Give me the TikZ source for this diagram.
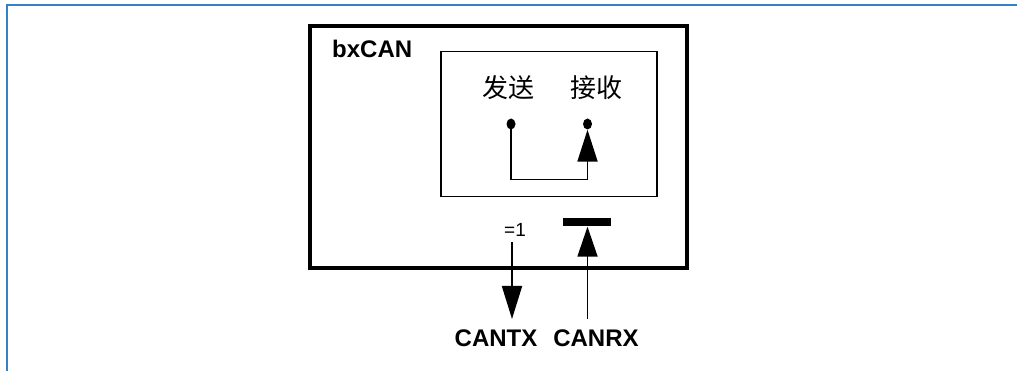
\documentclass[tikz,border=0pt]{standalone}
\usepackage{fontspec}
\setmainfont{Liberation Sans}
\newfontfamily\cjk{Noto Sans CJK SC}
\usetikzlibrary{arrows.meta,shapes.geometric}
\definecolor{frameblue}{HTML}{3580C6}
\begin{document}
\begin{tikzpicture}[x=1pt,y=-1pt,
  lbl/.style={font=\fontsize{24}{26}\selectfont\bfseries, inner sep=0pt},
  cjklbl/.style={font=\cjk\fontsize{26}{28}\selectfont, inner sep=0pt},
  wire/.style={line width=1.8pt},
  dotnode/.style={ellipse, fill=black, inner sep=0pt, minimum width=9pt, minimum height=11pt},
  bigtip/.style={-{Triangle[length=32pt,width=20pt]}}
]
\useasboundingbox (0,0) rectangle (1017,371);
% blue frame (top and left edges)
\draw[frameblue, line width=2pt] (6.5,371) -- (6.5,5.5) -- (1017,5.5);
% outer box
\node[draw, line width=3.5pt, minimum width=377pt, minimum height=242pt, inner sep=0pt, anchor=north west] (outer) at (308,24.5) {};
\node[lbl, anchor=west] (bx) at (332,49) {bxCAN};
% inner box
\node[draw, line width=1.5pt, minimum width=216pt, minimum height=145pt, inner sep=0pt, anchor=north west] (inner) at (440,51) {};
\node[cjklbl] (send) at (508,88) {发送};
\node[cjklbl] (recv) at (596,88) {接收};
\node[dotnode] (d1) at (511,124) {};
\node[dotnode] (d2) at (587.5,124) {};
\coordinate (c1) at (511,179.5);
\coordinate (c2) at (587.5,179.5);
\draw[wire, bigtip] (d1.center) -- (c1) -- (c2) -- (d2.south);
% =1 and CANTX
\node[font=\fontsize{19}{21}\selectfont, inner sep=0pt] (eq) at (515,230) {=1};
\coordinate (txtop) at (512,242);
\coordinate (txtip) at (512,319);
\draw[wire, -{Triangle[length=33pt,width=20pt]}] (txtop) -- (txtip);
\node[lbl] (cantx) at (496,338) {CANTX};
% T bar and CANRX
\node[fill=black, minimum width=48pt, minimum height=8pt, inner sep=0pt] (bar) at (586.5,222.5) {};
\coordinate (rxbot) at (587.5,319);
\draw[wire, -{Triangle[length=30pt,width=20pt]}] (rxbot) -- (bar.south -| rxbot);
\node[lbl] (canrx) at (596,338) {CANRX};
\end{tikzpicture}
\end{document}
